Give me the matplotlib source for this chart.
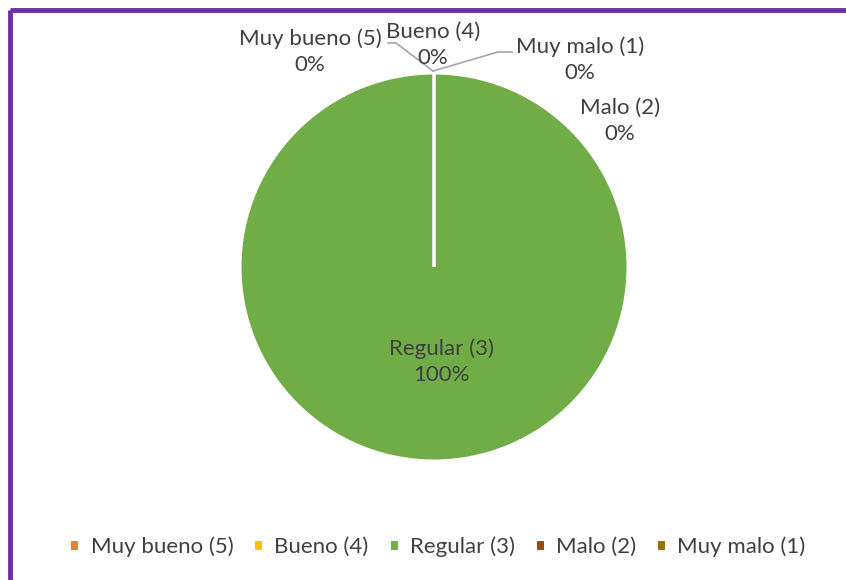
import matplotlib
matplotlib.use('Agg')
import matplotlib.pyplot as plt
from matplotlib.patches import Rectangle

# ------------------------------------------------------------
#  Data
# ------------------------------------------------------------
categories = ['Muy bueno (5)', 'Bueno (4)', 'Regular (3)', 'Malo (2)', 'Muy malo (1)']
counts = [0, 0, 1, 0, 0]
colors = ['#ED7D31', '#FFC000', '#70AD47', '#9E480E', '#997300']

plt.rcParams['font.family'] = ['Lato', 'DejaVu Sans']
TXT = '#404040'
FS = 16

W, H = 846, 580
fig = plt.figure(figsize=(W / 100, H / 100), dpi=100)
ax = fig.add_axes([0, 0, 1, 1])

# purple chart frame
ax.add_patch(Rectangle((10, 10), 900, 700, fill=False, ec='#7030A0', lw=3.5, zorder=0))

cx, cy, r = 434, 267, 194
# y axis is flipped below, so 270 deg points up and counterclock=True runs clockwise
wedges, _ = ax.pie(counts, colors=colors, startangle=270, counterclock=True,
                   center=(cx, cy), radius=r,
                   wedgeprops=dict(edgecolor='white', linewidth=2.2))
ax.set_xlim(0, W)
ax.set_ylim(H, 0)
ax.set_aspect('equal')
ax.axis('off')

total = sum(counts)
pcts = ['{:.0f}%'.format(100 * c / total) for c in counts]

# label anchor positions (pixel coords)
label_pos = {
    'Muy bueno (5)': (310, 52),
    'Bueno (4)': (433, 45),
    'Regular (3)': (441, 362),
    'Malo (2)': (620, 121),
    'Muy malo (1)': (580, 60),
}
for cat, pct in zip(categories, pcts):
    x, y = label_pos[cat]
    ax.text(x, y, f'{cat}\n{pct}', ha='center', va='center', color=TXT,
            fontsize=FS, linespacing=1.4, zorder=5)

# leader lines
lc = '#A6A6A6'
ax.plot([388, 396, 433], [43, 43, 71], color=lc, lw=1.2, zorder=4)
ax.plot([433, 498, 512], [71, 52, 52], color=lc, lw=1.2, zorder=4)

leg = ax.legend(wedges, categories, loc='center', bbox_to_anchor=(0.517, 1 - 547 / H),
                ncol=5, frameon=False, fontsize=FS, handlelength=0.45, handleheight=0.45,
                handletextpad=0.5, columnspacing=0.9)
for t in leg.get_texts():
    t.set_color(TXT)

fig.savefig('out.png', dpi=100)
